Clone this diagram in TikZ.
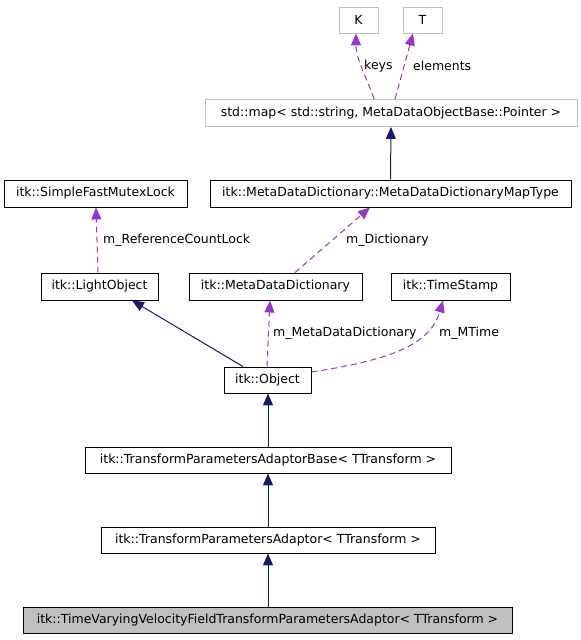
\documentclass[tikz,border=0pt]{standalone}
\usepackage{fontspec}
\setmainfont{DejaVu Sans}
\usetikzlibrary{arrows.meta}
\definecolor{edgenavy}{HTML}{191970}
\definecolor{edgepurple}{HTML}{9A32CD}
\definecolor{boxgray}{HTML}{BFBFBF}
\begin{document}
\begin{tikzpicture}[x=1pt,y=-1pt,
  cls/.style={draw=black,line width=0.9pt,minimum height=26pt,inner sep=0pt,
    font=\fontsize{12.5}{14}\selectfont,anchor=center},
  ext/.style={cls,draw=boxgray},
  inh/.style={draw=edgenavy,line width=1pt,-{Triangle[length=12pt,width=10pt,fill=edgenavy]}},
  use/.style={draw=edgepurple,line width=1pt,dash pattern=on 6pt off 4pt,
    -{Triangle[length=12pt,width=10pt,fill=edgepurple]}},
  lbl/.style={font=\fontsize{12.5}{14}\selectfont,inner sep=0pt,anchor=west}]
\useasboundingbox (0,0) rectangle (581,640);
% nodes
\node[ext,minimum width=39pt] (K) at (358.5,20) {K};
\node[ext,minimum width=39pt] (T) at (422.5,20) {T};
\node[ext,minimum width=372pt,minimum height=27pt] (map) at (391,113) {std::map< std::string, MetaDataObjectBase::Pointer >};
\node[cls,minimum width=361pt,minimum height=27pt] (maptype) at (390.5,193.5) {itk::MetaDataDictionary::MetaDataDictionaryMapType};
\node[cls,minimum width=183pt,minimum height=27pt] (sfml) at (95.5,193.5) {itk::SimpleFastMutexLock};
\node[cls,minimum width=117pt,minimum height=27pt] (light) at (99.5,286.5) {itk::LightObject};
\node[cls,minimum width=173pt,minimum height=27pt] (mdd) at (275.5,286.5) {itk::MetaDataDictionary};
\node[cls,minimum width=119pt,minimum height=27pt] (ts) at (450.5,286.5) {itk::TimeStamp};
\node[cls,minimum width=87pt] (obj) at (267.5,380) {itk::Object};
\node[cls,minimum width=366pt] (tpab) at (268,460) {itk::TransformParametersAdaptorBase< TTransform >};
\node[cls,minimum width=334pt] (tpa) at (268,540) {itk::TransformParametersAdaptor< TTransform >};
\node[cls,fill=boxgray,minimum width=489pt] (tvvf) at (267.5,620) {itk::TimeVaryingVelocityFieldTransformParametersAdaptor< TTransform >};
% inheritance
\draw[inh] (tpa.south |- tvvf.north) -- (tpa.south);
\draw[inh] (tpab.south |- tpa.north) -- (tpab.south);
\draw[inh] (tpab.north) -- (tpab.north |- obj.south);
\draw[inh] ([xshift=-24.5pt]obj.north) -- ([xshift=32.5pt]light.south);
\draw[inh] (maptype.north) -- (map.south);
% usage
\draw[use] ([xshift=-17pt]map.north) .. controls (368,80) and (356,60) .. ([xshift=-2.5pt]K.south);
\draw[use] ([xshift=4pt]map.north) -- ([xshift=-9.5pt]T.south);
\draw[use] ([xshift=-1.5pt]light.north) -- ([xshift=0.5pt]sfml.south);
\draw[use] ([xshift=19.5pt]mdd.north) -- ([xshift=-20.5pt]maptype.south);
\draw[use] ([xshift=-0.5pt]obj.north) -- ([xshift=-5.5pt]mdd.south);
\draw[use] ([yshift=8pt]obj.east) .. controls (390,360) and (430,345) .. ([xshift=-7.5pt]ts.south);
% labels
\node[lbl] (lkeys) at (364,66) {keys};
\node[lbl] (lel) at (413,66) {elements};
\node[lbl] (lrcl) at (103,240) {m\_ReferenceCountLock};
\node[lbl] (ldict) at (346,240) {m\_Dictionary};
\node[lbl] (lmdd) at (273,333) {m\_MetaDataDictionary};
\node[lbl] (lmt) at (439,333) {m\_MTime};
\end{tikzpicture}
\end{document}
